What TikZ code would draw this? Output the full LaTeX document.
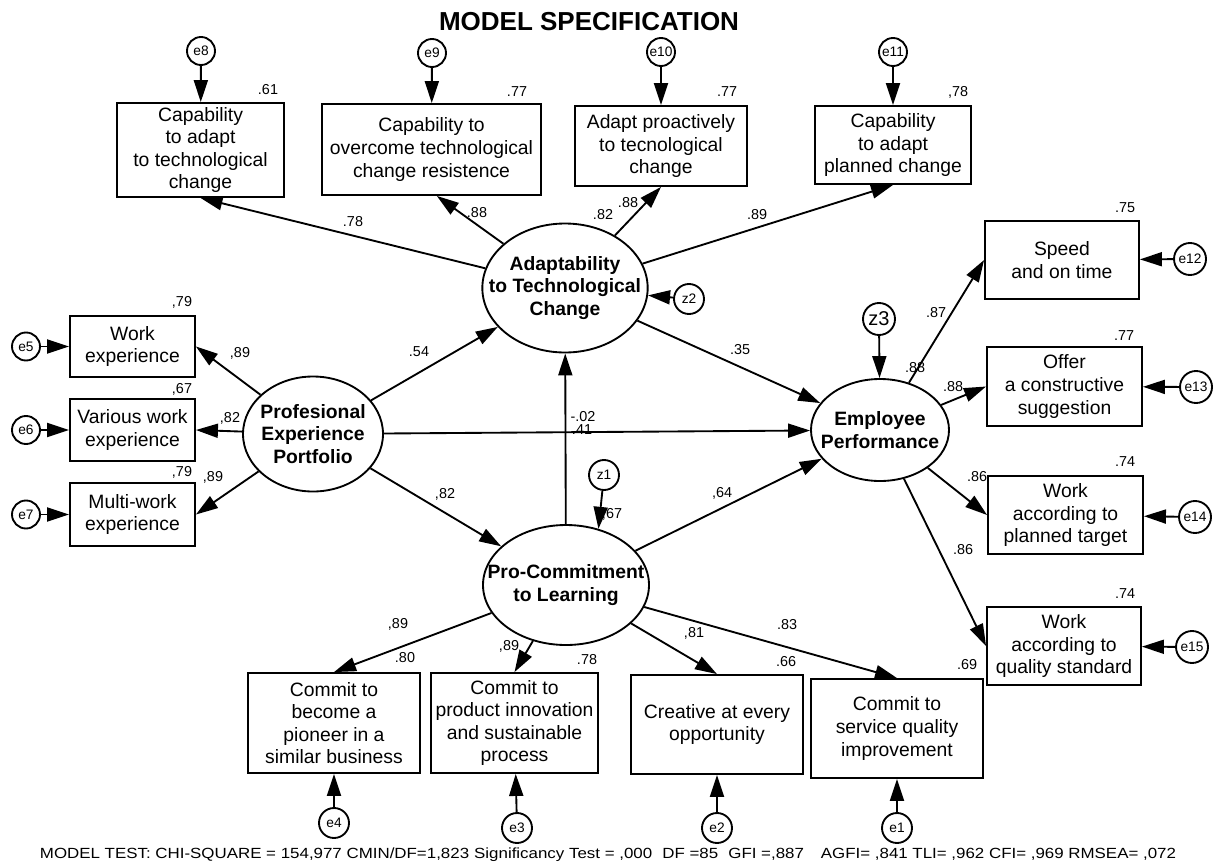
\documentclass[tikz,border=0pt]{standalone}
\usepackage{fontspec}
\setmainfont{Liberation Sans}
\usetikzlibrary{arrows.meta,shapes.geometric,calc}
\begin{document}
\begin{tikzpicture}[x=0.75pt,y=-0.75pt,
  line width=1.4pt,
  arr/.style={-{Triangle[length=16.5pt,width=10.5pt]}},
  box/.style={draw, rectangle, align=center, inner sep=0.5pt, font=\fontsize{14.5}{16.9}\selectfont},
  lat/.style={draw, ellipse, inner xsep=-20pt, inner ysep=0pt, align=center, font=\fontsize{14.5}{16.9}\selectfont\bfseries},
  err/.style={draw, circle, inner sep=0pt, font=\fontsize{10.3}{12}\selectfont},
  lab/.style={inner sep=0pt, font=\fontsize{10.8}{12}\selectfont},
]
\useasboundingbox (0,0) rectangle (1217,864);

% title
\node[font=\fontsize{19.5}{22}\selectfont\bfseries] (title) at (589,22) {MODEL SPECIFICATION};

% top indicator boxes
\node[box, minimum width=125.25pt, minimum height=70.5pt] (b1) at (200.5,150) {Capability\\to adapt\\to technological\\change};
\node[box, minimum width=164.25pt, minimum height=68.25pt] (b2) at (431.5,149.5) {Capability to\\overcome technological\\change resistence};
\node[box, minimum width=129pt, minimum height=60pt] (b3) at (661,146) {Adapt proactively\\to tecnological\\change};
\node[box, minimum width=117pt, minimum height=58.5pt] (b4) at (893,145) {Capability\\to adapt\\planned change};

\node[err, minimum size=21pt] (e8) at (201,51) {e8};
\node[err, minimum size=21pt] (e9) at (432,53) {e9};
\node[err, minimum size=21pt] (e10) at (661,52) {e10};
\node[err, minimum size=21pt] (e11) at (893,52) {e11};

% left boxes
\node[box, minimum width=93.75pt, minimum height=45.75pt] (w1) at (132.5,346.5) {Work\\experience};
\node[box, minimum width=93.75pt, minimum height=46.5pt] (w2) at (132.5,430) {Various work\\experience};
\node[box, minimum width=93.75pt, minimum height=47.25pt] (w3) at (132.5,514.5) {Multi-work\\experience};
\node[err, minimum size=21pt] (e5) at (26,346.5) {e5};
\node[err, minimum size=21pt] (e6) at (26,430) {e6};
\node[err, minimum size=21pt] (e7) at (26,514.5) {e7};

% right boxes
\node[box, minimum width=115.5pt, minimum height=58.5pt] (s1) at (1062,260) {Speed\\and on time};
\node[box, minimum width=116.25pt, minimum height=59.25pt] (s2) at (1064.5,386.5) {Offer\\a constructive\\suggestion};
\node[box, minimum width=116.25pt, minimum height=58.5pt] (s3) at (1065.5,515) {Work\\according to\\planned target};
\node[box, minimum width=115.5pt, minimum height=58.5pt] (s4) at (1064,646) {Work\\according to\\quality standard};
\node[err, minimum size=24pt] (e12) at (1190,259) {e12};
\node[err, minimum size=24pt] (e13) at (1196,387) {e13};
\node[err, minimum size=24pt] (e14) at (1195,517) {e14};
\node[err, minimum size=24pt] (e15) at (1192,647) {e15};

% bottom boxes
\node[box, minimum width=129pt, minimum height=75pt] (c1) at (334,723) {Commit to\\become a\\pioneer in a\\similar business};
\node[box, minimum width=125.25pt, minimum height=75pt] (c2) at (514.5,723) {Commit to\\product innovation\\and sustainable\\process};
\node[box, minimum width=129pt, minimum height=74.25pt] (c3) at (717,724.5) {Creative at every\\opportunity};
\node[box, minimum width=129pt, minimum height=74.25pt] (c4) at (897,728.5) {Commit to\\service quality\\improvement};
\node[err, minimum size=22.5pt] (e4) at (334,823) {e4};
\node[err, minimum size=22.5pt] (e3) at (517,828) {e3};
\node[err, minimum size=22.5pt] (e2) at (717,828) {e2};
\node[err, minimum size=22.5pt] (e1) at (897,828) {e1};

% latent variables
\node[lat, minimum width=124pt, minimum height=96.75pt] (adapt) at (565,288) {Adaptability\\to Technological\\Change};
\node[lat, minimum width=103.5pt, minimum height=76.5pt] (ep) at (880,430) {Employee\\Performance};
\node[lat, minimum width=105pt, minimum height=86.25pt] (pep) at (313,434) {Profesional\\Experience\\Portfolio};
\node[lat, minimum width=124.5pt, minimum height=90pt] (proc) at (566,585) {Pro-Commitment\\to Learning};

\node[err, minimum size=22.5pt] (z1) at (604,475) {z1};
\node[err, minimum size=22.5pt] (z2) at (689,299) {z2};
\node[err, minimum size=24pt, font=\fontsize{15}{17}\selectfont] (z3) at (879,319) {z3};

% error arrows
\foreach \e/\b in {e8/b1,e9/b2,e10/b3,e11/b4,e5/w1,e6/w2,e7/w3,e12/s1,e13/s2,e14/s3,e15/s4,e4/c1,e3/c2,e2/c3,e1/c4}
  \draw[arr] (\e) -- (\b);
\draw[arr] (z2) -- (adapt);
\draw[arr] (z3) -- (ep);
\draw[arr] (z1) -- (proc.60);

% loadings
\draw[arr] (adapt) -- (b1.south);
\draw[arr] (adapt) -- ([xshift=4pt]b2.south);
\draw[arr] (adapt) -- (b3.south);
\draw[arr] (adapt) -- (b4.south);
\draw[arr] (pep) -- (w1.east);
\draw[arr] (pep) -- (w2.east);
\draw[arr] (pep) -- (w3.east);
\draw[arr] (ep) -- (s1.west);
\draw[arr] (ep) -- (s2.west);
\draw[arr] (ep) -- (s3.west);
\draw[arr] (ep) -- (s4.west);
\draw[arr] (proc) -- (c1.north);
\draw[arr] (proc) -- (c2.north);
\draw[arr] (proc) -- (c3.north);
\draw[arr] (proc) -- (c4.north);

% structural paths
\draw[arr] (pep) -- (adapt);
\draw[arr] (pep) -- (proc);
\draw[arr] (pep) -- (ep);
\draw[arr] (proc) -- (adapt);
\draw[arr] (adapt) -- (ep);
\draw[arr] (proc) -- (ep);

% labels
\node[lab] (l1) at (268,90) {.61};
\node[lab] (l2) at (517,92) {.77};
\node[lab] (l3) at (727,92) {.77};
\node[lab] (l4) at (958,92) {,78};
\node[lab] (l5) at (353,222) {.78};
\node[lab] (l6) at (477,213) {.88};
\node[lab] (l7) at (603,215) {.82};
\node[lab] (l8) at (628,203) {.88};
\node[lab] (l9) at (757,215) {.89};
\node[lab] (l10) at (1125,208) {.75};
\node[lab] (l11) at (936,313) {.87};
\node[lab] (l12) at (915,368) {.88};
\node[lab] (l13) at (953,387) {.88};
\node[lab] (l14) at (1124,336) {.77};
\node[lab] (l15) at (1125,462) {.74};
\node[lab] (l16) at (977,477) {.86};
\node[lab] (l17) at (963,550) {.86};
\node[lab] (l18) at (1125,594) {.74};
\node[lab] (l19) at (182,302) {,79};
\node[lab] (l20) at (182,389) {,67};
\node[lab] (l21) at (182,472) {,79};
\node[lab] (l22) at (240,353) {,89};
\node[lab] (l23) at (230,418) {,82};
\node[lab] (l24) at (213,477) {,89};
\node[lab] (l25) at (419,352) {.54};
\node[lab] (l26) at (740,350) {.35};
\node[lab] (l27) at (583,417) {-.02};
\node[lab] (l28) at (582,430) {.41};
\node[lab] (l29) at (445,494) {,82};
\node[lab] (l30) at (722,493) {,64};
\node[lab] (l31) at (612,514) {,67};
\node[lab] (l32) at (398,624) {,89};
\node[lab] (l33) at (405,658) {.80};
\node[lab] (l34) at (509,646) {,89};
\node[lab] (l35) at (587,660) {.78};
\node[lab] (l36) at (694,633) {,81};
\node[lab] (l37) at (787,625) {.83};
\node[lab] (l38) at (786,662) {.66};
\node[lab] (l39) at (967,665) {.69};

% footer
\node[inner sep=0pt] (foot) at (608,855) {\resizebox{852pt}{8pt}{MODEL TEST: CHI-SQUARE = 154,977 CMIN/DF=1,823\hspace{0.3em}Significancy Test = ,000\hspace{0.6em}DF =85\hspace{0.6em}GFI =,887\hspace{1em}AGFI= ,841 TLI= ,962 CFI= ,969 RMSEA= ,072}};
\end{tikzpicture}
\end{document}
